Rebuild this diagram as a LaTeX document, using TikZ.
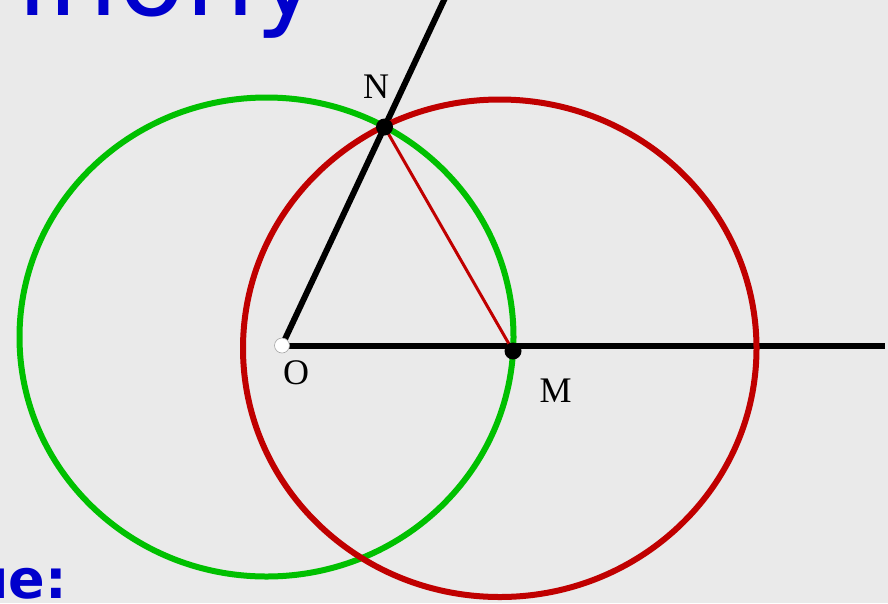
\documentclass[tikz,border=0pt]{standalone}
\usepackage{fontspec}
\setmainfont{Liberation Serif}
\newfontfamily\dejavu{DejaVu Sans}
\usetikzlibrary{calc}
\definecolor{bg}{HTML}{EAEAEA}
\definecolor{titleblue}{HTML}{0000CC}
\definecolor{cgreen}{HTML}{00C000}
\definecolor{cred}{HTML}{C00000}
\tikzset{
  thickline/.style={line width=6pt, black},
  circlegreen/.style={line width=6pt, draw=cgreen},
  circlered/.style={line width=6pt, draw=cred},
  blackdot/.style={circle, fill=black, inner sep=0pt, minimum size=17pt},
  whitedot/.style={circle, fill=white, draw=black!35, line width=0.6pt, inner sep=0pt, minimum size=15pt},
  ptlabel/.style={inner sep=0pt, font=\fontsize{36}{36}\selectfont, text=black}
}
\begin{document}
\begin{tikzpicture}[x=1pt,y=-1pt]
\fill[bg] (0,0) rectangle (888,603);
\useasboundingbox (0,0) rectangle (888,603);
\clip (0,0) rectangle (888,603);

% cropped titles
\node[anchor=base west, inner sep=0pt, text=titleblue, font=\dejavu\fontsize{110}{110}\selectfont] (title) at (17.6,15) {inony};
\node[anchor=base west, inner sep=0pt, text=titleblue, font=\dejavu\bfseries\fontsize{54}{54}\selectfont] (sub) at (-30,598) {ue:};

% points
\coordinate (O) at (282,345.5);
\coordinate (N) at (384.5,127);
\coordinate (M) at (513,351);
\coordinate (Rend) at (885,345.5);
\coordinate (Tend) at ($(O)!1.62!(N)$);

% lines
\draw[thickline] (O) -- (Rend);
\draw[thickline] (O) -- (Tend);
\draw[cred, line width=3pt] (N) -- (M);

% circles
\draw[circlegreen] (266.5,337) ellipse [x radius=247pt, y radius=239.5pt];
\draw[circlered] (499.75,348.25) ellipse [x radius=256.75pt, y radius=248.75pt];

% dots
\node[whitedot] (Odot) at (O) {};
\node[blackdot] (Ndot) at (N) {};
\node[blackdot] (Mdot) at (M) {};

% labels
\node[ptlabel] (Nlab) at (376,86.5) {N};
\node[ptlabel] (Olab) at (296,372.5) {O};
\node[ptlabel] (Mlab) at (555.5,390.5) {M};
\end{tikzpicture}
\end{document}
